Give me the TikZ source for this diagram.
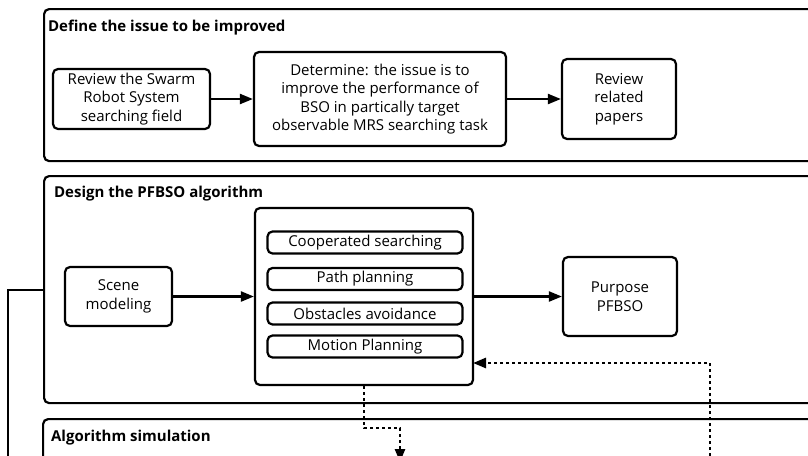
\documentclass[tikz,border=0pt]{standalone}
\usepackage{fontspec}
\setmainfont{Open Sans}
\usetikzlibrary{arrows.meta,positioning}
\begin{document}
\begin{tikzpicture}[x=1pt,y=-1pt,line width=2.2pt,
	panel/.style={draw,rounded corners=5pt,anchor=north west,inner sep=0pt,minimum width=800pt},
	box/.style={draw,rounded corners=5pt,align=center,inner sep=0pt,font=\fontsize{15}{18.5}\selectfont},
	subbox/.style={box,minimum width=195pt,minimum height=22pt},
	title/.style={anchor=west,inner sep=0pt,font=\bfseries\fontsize{15}{18}\selectfont},
	arr/.style={-{Triangle[length=13pt,width=10pt]}},
	dotline/.style={line width=2.6pt,dash pattern=on 2.8pt off 3.2pt}]
	\useasboundingbox (0,0) rectangle (808,455);
	\clip (0,0) rectangle (808,455);
	% panels
	\node[panel,minimum height=152pt] (issue) at (43,8) {};
	\node[panel,minimum height=227pt] (design) at (43,175) {};
	\node[panel,minimum height=100pt] (sim) at (42,418) {};
	\node[title] (t1) at (47,28) {Define the issue to be improved};
	\node[title] (t2) at (53,194) {Design the PFBSO algorithm};
	\node[title] (t3) at (50,438) {Algorithm simulation};
	% first row
	\node[box,minimum width=157pt,minimum height=60pt] (review) at (131.5,99) {Review the Swarm\\Robot System\\searching field};
	\node[box,minimum width=252pt,minimum height=94pt] (issuebox) at (380,99) {Determine: the issue is to\\improve the performance of\\BSO in partically target\\observable MRS searching task};
	\node[box,minimum width=114pt,minimum height=80pt] (papers) at (619,99) {Review\\related\\papers};
	\draw[arr] (review) -- (issuebox);
	\draw[arr] (issuebox) -- (papers);
	% second row
	\node[box,minimum width=107pt,minimum height=59pt] (scene) at (118.5,296.5) {Scene\\modeling};
	\node[box,minimum width=218pt,minimum height=177pt] (algo) at (364,296.5) {};
	\node[box,minimum width=114pt,minimum height=79pt] (purpose) at (620,296.5) {Purpose\\PFBSO};
	\foreach \y/\name/\txt in {242.5/coop/Cooperated searching,279/path/Path planning,313.5/obst/Obstacles avoidance,346.5/motion/Motion Planning}
		\node[subbox] (\name) at (365,\y) {\txt};
	\draw[arr] (scene) -- (algo);
	\draw[arr] (algo) -- (purpose);
	% feedback and flow to simulation
	\coordinate (feed) at (710,462);
	\coordinate (back) at (473,363);
	\coordinate (simin) at (400,462);
	\coordinate (loop) at (8,462);
	\draw[dotline,arr] (feed) |- (back);
	\draw[dotline,arr] (algo.south) -- ++(0,42) -| (simin);
	\draw (design.west) -| (loop);
\end{tikzpicture}
\end{document}
